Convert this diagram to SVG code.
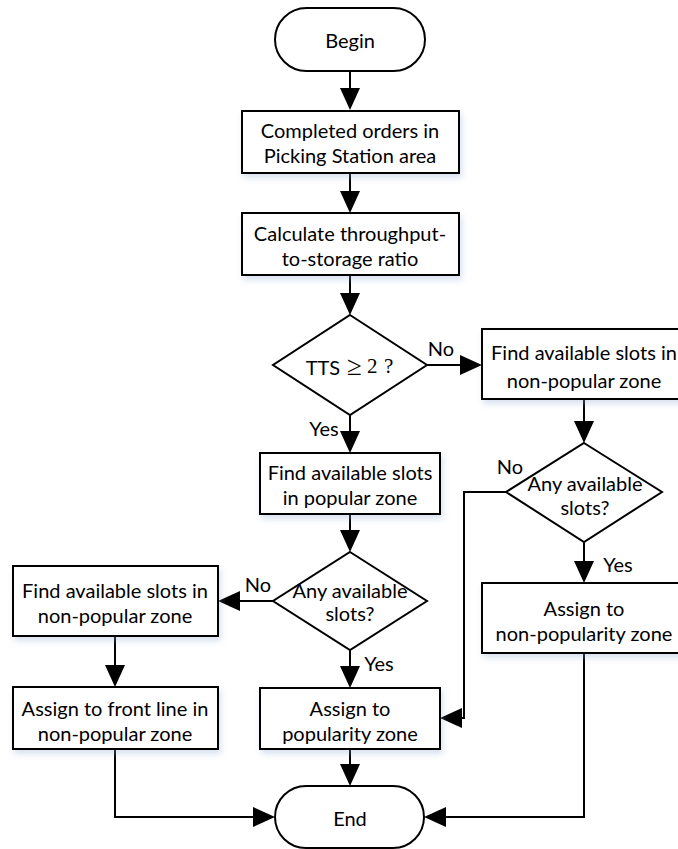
<svg xmlns="http://www.w3.org/2000/svg" width="678" height="849" viewBox="0 0 678 849">
  <style>
    .shape { fill: #ffffff; stroke: #000000; stroke-width: 2; }
    .boxed { filter: url(#soft-shadow); }
    .label { font-family: Lato, "Liberation Sans", sans-serif; font-size: 20px; fill: #000000; text-anchor: middle; dominant-baseline: central; }
    .math { font-family: "Liberation Serif", "DejaVu Serif", serif; font-size: 21px; text-anchor: start; }
    .rel { font-size: 27px; }
    .flow { fill: none; stroke: #000000; stroke-width: 2; marker-end: url(#head); }
  </style>
  <defs>
    <marker id="head" markerUnits="userSpaceOnUse" viewBox="0 0 22 20" markerWidth="22" markerHeight="20" refX="18" refY="10" orient="auto">
      <path d="M0,0 L22,10 L0,20 Z" fill="#000000"/>
    </marker>
    <filter id="soft-shadow" x="-10%" y="-10%" width="125%" height="140%">
      <feGaussianBlur in="SourceAlpha" stdDeviation="3"/>
      <feOffset dx="2" dy="4" result="blur"/>
      <feFlood flood-color="#8fa9d3" flood-opacity="0.35"/>
      <feComposite in2="blur" operator="in"/>
      <feMerge>
        <feMergeNode/>
        <feMergeNode in="SourceGraphic"/>
      </feMerge>
    </filter>
  </defs>

  <rect width="678" height="849" fill="#ffffff"/>

  <!-- connectors -->
  <g id="connectors">
    <path class="flow" d="M350,71 V106"/>
    <path class="flow" d="M350,173 V209"/>
    <path class="flow" d="M350,275 V311"/>
    <path class="flow" d="M427,365 H478"/>
    <path class="flow" d="M350,415 V449"/>
    <path class="flow" d="M350,514 V548"/>
    <path class="flow" d="M273,601 H222"/>
    <path class="flow" d="M350,650 V684"/>
    <path class="flow" d="M115,636 V683"/>
    <path class="flow" d="M584,399 V439"/>
    <path class="flow" d="M584,542 V579"/>
    <path class="flow" d="M507,492 H464 V718 H444"/>
    <path class="flow" d="M115,749 V817 H271"/>
    <path class="flow" d="M350,749 V782"/>
    <path class="flow" d="M584,653 V817 H428"/>
  </g>

  <!-- branch labels -->
  <g id="branch-labels">
    <text class="label" x="441" y="348">No</text>
    <text class="label" x="324" y="428">Yes</text>
    <text class="label" x="258" y="584">No</text>
    <text class="label" x="379" y="663">Yes</text>
    <text class="label" x="510" y="466">No</text>
    <text class="label" x="618" y="564">Yes</text>
  </g>

  <g id="begin">
    <rect class="shape" x="275" y="8" width="150" height="63" rx="31.5" ry="31.5"/>
    <text class="label" x="350" y="40">Begin</text>
  </g>

  <g id="completed-orders">
    <rect class="shape boxed" x="242" y="111" width="217" height="62"/>
    <text class="label" x="350" y="130">Completed orders in</text>
    <text class="label" x="350" y="155">Picking Station area</text>
  </g>

  <g id="calculate-tts">
    <rect class="shape boxed" x="242" y="213" width="217" height="62"/>
    <text class="label" x="350" y="233">Calculate throughput-</text>
    <text class="label" x="350" y="258">to-storage ratio</text>
  </g>

  <g id="tts-check">
    <polygon class="shape" points="350,315 427,365 350,415 273,365"/>
    <text class="label" x="323" y="367">TTS</text>
    <text class="label math rel" x="347" y="366">≥</text>
    <text class="label math" x="367" y="366">2</text>
    <text class="label math" x="384" y="366">?</text>
  </g>

  <g id="find-popular">
    <rect class="shape boxed" x="260" y="453" width="180" height="61"/>
    <text class="label" x="350" y="472">Find available slots</text>
    <text class="label" x="350" y="497">in popular zone</text>
  </g>

  <g id="popular-available">
    <polygon class="shape" points="350,552 427,601 350,650 273,601"/>
    <text class="label" x="350" y="590">Any available</text>
    <text class="label" x="350" y="613">slots?</text>
  </g>

  <g id="find-nonpopular-left">
    <rect class="shape boxed" x="13" y="566" width="205" height="70"/>
    <text class="label" x="115" y="590">Find available slots in</text>
    <text class="label" x="115" y="615">non-popular zone</text>
  </g>

  <g id="assign-front-line">
    <rect class="shape boxed" x="13" y="687" width="205" height="62"/>
    <text class="label" x="115" y="708">Assign to front line in</text>
    <text class="label" x="115" y="733">non-popular zone</text>
  </g>

  <g id="assign-popularity">
    <rect class="shape boxed" x="260" y="688" width="180" height="61"/>
    <text class="label" x="350" y="708">Assign to</text>
    <text class="label" x="350" y="733">popularity zone</text>
  </g>

  <g id="find-nonpopular-right">
    <rect class="shape boxed" x="482" y="329" width="204" height="70"/>
    <text class="label" x="584" y="352">Find available slots in</text>
    <text class="label" x="584" y="380">non-popular zone</text>
  </g>

  <g id="nonpopular-available">
    <polygon class="shape" points="584,443 662,492 584,542 506,492"/>
    <text class="label" x="585" y="483">Any available</text>
    <text class="label" x="585" y="507">slots?</text>
  </g>

  <g id="assign-nonpopularity">
    <rect class="shape boxed" x="482" y="583" width="204" height="70"/>
    <text class="label" x="584" y="608">Assign to</text>
    <text class="label" x="584" y="633">non-popularity zone</text>
  </g>

  <g id="end">
    <rect class="shape" x="275" y="786" width="149" height="62" rx="31" ry="31"/>
    <text class="label" x="350" y="818">End</text>
  </g>
</svg>
